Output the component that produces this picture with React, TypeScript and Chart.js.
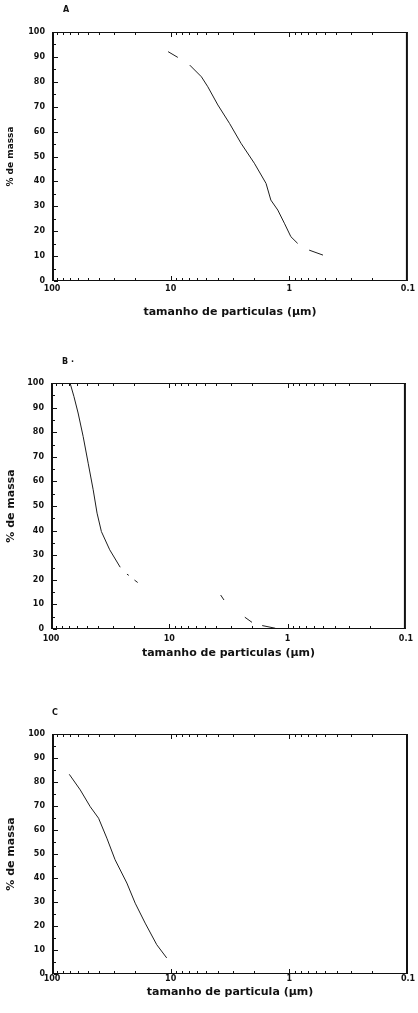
import { useEffect, useRef } from "react";
import { Chart, registerables } from "chart.js";

Chart.register(...registerables);

// ---- data ----
const panelLabels = ["A", "B ·", "C"];
const xTitles = [
  "tamanho de particulas (µm)",
  "tamanho de particulas (µm)",
  "tamanho de particula (µm)",
];
const yTitle = "% de massa";
const xTickValues = [100, 10, 1, 0.1];
const xTickLabels = ["100", "10", "1", "0.1"];
const yTickStep = 10;

// panel A (null = visible break in the trace)
const sizeA = [10.5, 8.7, 7.8, 6.9, 5.5, 4.86, 4.0, 3.19, 2.55, 1.97, 1.57, 1.43, 1.25, 1.1, 0.97, 0.85, 0.76, 0.68, 0.52];
const massA = [92.1, 89.8, null, 86.7, 82, 78, 70.7, 63.3, 55.3, 47.3, 39.2, 32.5, 28.5, 23.2, 17.8, 15.1, null, 12.4, 10.4];

// panel B
const sizeB = [69, 64, 59, 53.5, 48.5, 44, 40.8, 37.5, 31.9, 26, 24, 22.8, 22.0, 20.8, 19.7, 18.5, 8, 3.68, 3.45, 2.8, 2.3, 2.0, 1.8, 1.64, 1.27];
const massB = [100, 94.5, 87.8, 78.3, 67.4, 56.6, 47.1, 39.6, 32.2, 25.1, null, 22.3, 21.8, null, 19.9, 18.9, null, 13.8, 11.8, null, 4.8, 2.7, null, 1.4, 0.3];

// panel C
const sizeC = [71.5, 57.8, 47.6, 40.5, 34.5, 29.4, 23.4, 19.9, 16.4, 13.1, 10.8];
const massC = [83.2, 76.7, 69.7, 64.9, 56.6, 47.6, 37.9, 29.5, 21.2, 12.2, 6.7];

const sizes = [sizeA, sizeB, sizeC];
const masses = [massA, massB, massC];

const minorMultipliers = [1, 2, 3, 4, 5, 6, 7, 8, 9];
const decades = [10, 1, 0.1];

// ---- layout (pixels) ----
const panels = [
  { top: 0, height: 330, padTop: 32, padRight: 9, padBottom: 11.5, yWidth: 52, xHeight: 37.5, tickPad: 3, yTitleSize: 9, labelDx: 11, labelDy: -22 },
  { top: 330, height: 340, padTop: 53, padRight: 11, padBottom: 10, yWidth: 51, xHeight: 31, tickPad: 5, yTitleSize: 11, labelDx: 11, labelDy: -21 },
  { top: 670, height: 343, padTop: 64, padRight: 10, padBottom: 14, yWidth: 52, xHeight: 25, tickPad: 0, yTitleSize: 11, labelDx: 0, labelDy: -21 },
];

const FONT = '"DejaVu Sans", "Liberation Sans", sans-serif';
const INK = "#111";

const framePlugin = {
  id: "frame",
  afterDraw(chart: any, _args: any, opts: any) {
    const { ctx, chartArea, scales } = chart;
    const { left, right, top, bottom } = chartArea;
    const x = scales.x;
    const y = scales.y;
    ctx.save();
    ctx.strokeStyle = INK;
    ctx.lineWidth = 1;
    ctx.beginPath();
    ctx.moveTo(left, top + 0.5);
    ctx.lineTo(right, top + 0.5);
    ctx.moveTo(left, bottom - 0.5);
    ctx.lineTo(right, bottom - 0.5);
    ctx.stroke();
    ctx.lineWidth = 2;
    ctx.beginPath();
    ctx.moveTo(left + 1, top);
    ctx.lineTo(left + 1, bottom);
    ctx.moveTo(right - 1, top);
    ctx.lineTo(right - 1, bottom);
    ctx.stroke();
    // x minor/major ticks (inward, top & bottom)
    ctx.lineWidth = 1;
    ctx.beginPath();
    for (const d of decades) {
      for (const m of minorMultipliers) {
        const v = m * d;
        if (v < 0.1 || v > 100 || (m === 1 && d === 0.1)) continue;
        const px = Math.round(x.getPixelForValue(v)) + 0.5;
        const len = m === 1 ? 5 : 3;
        ctx.moveTo(px, top);
        ctx.lineTo(px, top + len);
        ctx.moveTo(px, bottom);
        ctx.lineTo(px, bottom - len);
      }
    }
    // y ticks (inward, left)
    for (let v = 0; v <= 100; v += 5) {
      const py = Math.round(y.getPixelForValue(v)) + 0.5;
      const len = v % 10 === 0 ? 4 : 2;
      ctx.moveTo(left + 2, py);
      ctx.lineTo(left + 2 + len, py);
    }
    ctx.stroke();
    // panel label
    ctx.fillStyle = INK;
    ctx.font = `bold 8px ${FONT}`;
    ctx.textBaseline = "middle";
    ctx.textAlign = "left";
    ctx.fillText(opts.label, left + opts.dx, top + opts.dy);
    ctx.restore();
  },
};

function Panel({ index }: { index: number }) {
  const ref = useRef<HTMLCanvasElement | null>(null);
  const p = panels[index];
  useEffect(() => {
    if (!ref.current) return;
    const data = sizes[index].map((s, i) => ({ x: s, y: masses[index][i] }));
    const chart = new Chart(ref.current, {
      type: "scatter",
      data: {
        datasets: [
          {
            data: data as any,
            showLine: true,
            spanGaps: false,
            borderColor: "#1e1e1e",
            borderWidth: 1,
            pointRadius: 0,
            tension: 0,
          },
        ],
      },
      options: {
        responsive: false,
        animation: false,
        events: [],
        layout: { padding: { top: p.padTop, right: p.padRight, bottom: p.padBottom, left: 0 } },
        plugins: {
          legend: { display: false },
          tooltip: { enabled: false },
          frame: { label: panelLabels[index], dx: p.labelDx, dy: p.labelDy },
        } as any,
        scales: {
          x: {
            type: "logarithmic",
            min: 0.1,
            max: 100,
            reverse: true,
            grid: { display: false, drawTicks: false },
            border: { display: false },
            afterBuildTicks: (scale: any) => {
              scale.ticks = xTickValues.map((v) => ({ value: v }));
            },
            afterFit: (scale: any) => {
              scale.height = p.xHeight;
            },
            ticks: {
              autoSkip: false,
              maxRotation: 0,
              padding: p.tickPad,
              color: INK,
              font: { family: FONT, size: 8, weight: "bold" },
              callback: (v: any) => {
                const i = xTickValues.indexOf(Number(v));
                return i >= 0 ? xTickLabels[i] : "";
              },
            },
            title: {
              display: true,
              text: xTitles[index],
              color: INK,
              padding: { top: 0, bottom: 0 },
              font: { family: FONT, size: 11, weight: "bold" },
            },
          },
          y: {
            min: 0,
            max: 100,
            grid: { display: false, drawTicks: false },
            border: { display: false },
            afterFit: (scale: any) => {
              scale.width = p.yWidth;
            },
            ticks: {
              stepSize: yTickStep,
              padding: 7,
              color: INK,
              font: { family: FONT, size: 8, weight: "bold" },
            },
            title: {
              display: true,
              text: yTitle,
              color: INK,
              padding: { top: 5, bottom: 0 },
              font: { family: FONT, size: p.yTitleSize, weight: "bold" },
            },
          },
        },
      },
      plugins: [framePlugin],
    });
    return () => chart.destroy();
  }, [index]);
  return (
    <canvas
      ref={ref}
      width={418}
      height={p.height}
      style={{ position: "absolute", left: 0, top: p.top, width: 418, height: p.height }}
    />
  );
}

export default function App() {
  return (
    <div style={{ position: "absolute", left: 0, top: 0, width: 418, height: 1013, background: "#fff", overflow: "hidden" }}>
      <Panel index={0} />
      <Panel index={1} />
      <Panel index={2} />
    </div>
  );
}
